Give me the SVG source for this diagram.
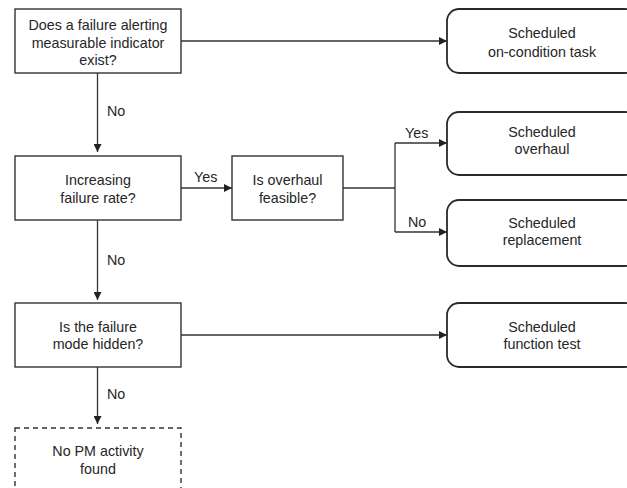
<svg xmlns="http://www.w3.org/2000/svg" width="627" height="488" viewBox="0 0 627 488">
<style>
.box{fill:#fff;stroke:#333;stroke-width:1.4}
.rbox{fill:#fff;stroke:#2a2a2a;stroke-width:1.8}
.dash{fill:#fff;stroke:#333;stroke-width:1.4;stroke-dasharray:5 4}
.t{font-family:"Liberation Sans",Arial,sans-serif;font-size:14.3px;fill:#262626;text-anchor:middle}
.l{font-family:"Liberation Sans",Arial,sans-serif;font-size:14.3px;fill:#262626}
.c{fill:none;stroke:#333;stroke-width:1.3}
</style>
<defs>
<marker id="ah" viewBox="0 0 10 10" refX="10" refY="5" markerWidth="9" markerHeight="8" markerUnits="userSpaceOnUse" orient="auto">
<path d="M0,0 L10,5 L0,10 Z" fill="#222"/>
</marker>
</defs>
<rect width="627" height="488" fill="#fff"/>
<g id="connectors">
<path class="c" d="M181,41 H447" marker-end="url(#ah)"/>
<path class="c" d="M97.5,73 V152" marker-end="url(#ah)"/>
<path class="c" d="M181,188 H232" marker-end="url(#ah)"/>
<path class="c" d="M343,188 H395"/>
<path class="c" d="M395,143 V232"/>
<path class="c" d="M395,143 H447" marker-end="url(#ah)"/>
<path class="c" d="M395,232 H447" marker-end="url(#ah)"/>
<path class="c" d="M97.5,220 V300" marker-end="url(#ah)"/>
<path class="c" d="M181,335 H447" marker-end="url(#ah)"/>
<path class="c" d="M97.5,367 V424" marker-end="url(#ah)"/>
<text class="l" x="107" y="116">No</text>
<text class="l" x="194" y="182">Yes</text>
<text class="l" x="405" y="138">Yes</text>
<text class="l" x="408" y="227">No</text>
<text class="l" x="107" y="265">No</text>
<text class="l" x="107" y="399">No</text>
</g>
<g id="q1">
<rect class="box" x="15" y="9" width="166" height="64"/>
<text class="t" x="98" y="30">Does a failure alerting</text>
<text class="t" x="98" y="47.5">measurable indicator</text>
<text class="t" x="98" y="65">exist?</text>
</g>
<g id="q2">
<rect class="box" x="15" y="156" width="166" height="64"/>
<text class="t" x="98" y="185">Increasing</text>
<text class="t" x="98" y="202.5">failure rate?</text>
</g>
<g id="q3">
<rect class="box" x="232" y="156" width="111" height="64"/>
<text class="t" x="287.5" y="185">Is overhaul</text>
<text class="t" x="287.5" y="202.5">feasible?</text>
</g>
<g id="q4">
<rect class="box" x="15" y="303" width="166" height="64"/>
<text class="t" x="98" y="331.5">Is the failure</text>
<text class="t" x="98" y="349">mode hidden?</text>
</g>
<g id="none">
<rect class="dash" x="15" y="428" width="166" height="70"/>
<text class="t" x="98" y="456">No PM activity</text>
<text class="t" x="98" y="473.5">found</text>
</g>
<g id="r1">
<rect class="rbox" x="447" y="9" width="190" height="64" rx="12"/>
<text class="t" x="542" y="38">Scheduled</text>
<text class="t" x="542" y="56.5">on-condition task</text>
</g>
<g id="r2">
<rect class="rbox" x="447" y="112" width="190" height="63" rx="12"/>
<text class="t" x="542" y="137">Scheduled</text>
<text class="t" x="542" y="154">overhaul</text>
</g>
<g id="r3">
<rect class="rbox" x="447" y="200" width="190" height="66" rx="12"/>
<text class="t" x="542" y="228">Scheduled</text>
<text class="t" x="542" y="245">replacement</text>
</g>
<g id="r4">
<rect class="rbox" x="447" y="303" width="190" height="64" rx="12"/>
<text class="t" x="542" y="332">Scheduled</text>
<text class="t" x="542" y="349">function test</text>
</g>
</svg>
